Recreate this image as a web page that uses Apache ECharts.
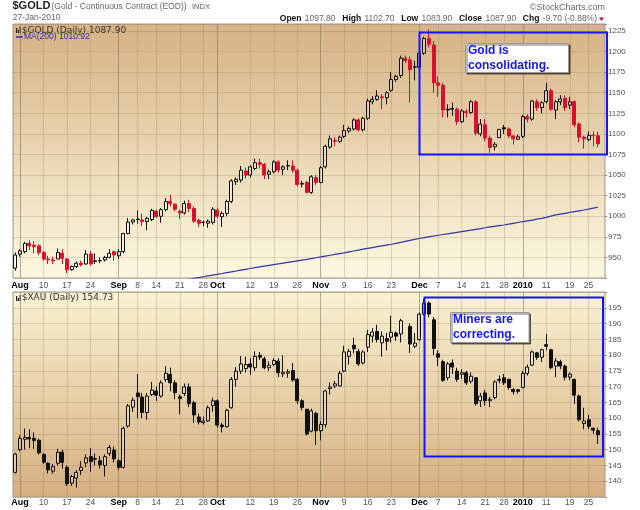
<!DOCTYPE html>
<html><head><meta charset="utf-8">
<script src="https://cdn.jsdelivr.net/npm/echarts/dist/echarts.min.js"></script>
<style>html,body{margin:0;padding:0;background:#fff}#c{width:640px;height:510px}</style>
</head><body><div id="c"></div>
<script>
// ---------- DATA ----------
const dates = [
'2009-07-31',
'2009-08-03','2009-08-04','2009-08-05','2009-08-06','2009-08-07',
'2009-08-10','2009-08-11','2009-08-12','2009-08-13','2009-08-14',
'2009-08-17','2009-08-18','2009-08-19','2009-08-20','2009-08-21',
'2009-08-24','2009-08-25','2009-08-26','2009-08-27','2009-08-28',
'2009-08-31',
'2009-09-01','2009-09-02','2009-09-03','2009-09-04',
'2009-09-08','2009-09-09','2009-09-10','2009-09-11',
'2009-09-14','2009-09-15','2009-09-16','2009-09-17','2009-09-18',
'2009-09-21','2009-09-22','2009-09-23','2009-09-24','2009-09-25',
'2009-09-28','2009-09-29','2009-09-30',
'2009-10-01','2009-10-02',
'2009-10-05','2009-10-06','2009-10-07','2009-10-08','2009-10-09',
'2009-10-12','2009-10-13','2009-10-14','2009-10-15','2009-10-16',
'2009-10-19','2009-10-20','2009-10-21','2009-10-22','2009-10-23',
'2009-10-26','2009-10-27','2009-10-28','2009-10-29','2009-10-30',
'2009-11-02','2009-11-03','2009-11-04','2009-11-05','2009-11-06',
'2009-11-09','2009-11-10','2009-11-11','2009-11-12','2009-11-13',
'2009-11-16','2009-11-17','2009-11-18','2009-11-19','2009-11-20',
'2009-11-23','2009-11-24','2009-11-25','2009-11-26','2009-11-27',
'2009-11-30',
'2009-12-01','2009-12-02','2009-12-03','2009-12-04',
'2009-12-07','2009-12-08','2009-12-09','2009-12-10','2009-12-11',
'2009-12-14','2009-12-15','2009-12-16','2009-12-17','2009-12-18',
'2009-12-21','2009-12-22','2009-12-23','2009-12-24',
'2009-12-28','2009-12-29','2009-12-30','2009-12-31',
'2010-01-04','2010-01-05','2010-01-06','2010-01-07','2010-01-08',
'2010-01-11','2010-01-12','2010-01-13','2010-01-14','2010-01-15',
'2010-01-19','2010-01-20','2010-01-21','2010-01-22',
'2010-01-25','2010-01-26','2010-01-27'
];

// [open, close, low, high]
const gold = [
[937,953,934,956],
[954,958,951,960],[957,967,955,969],[967,964,959,971],[965,963,955,970],[964,956,953,966],
[956,948,946,958],[948,947,942,952],[947,946,942,951],[948,956,948,961],[955,949,942,960],
[948,935,931,949],[935,939,934,940],[939,943,937,945],[943,941,939,946],[942,954,941,959],
[954,942,940,958],[945,946,942,955],[946,946.3,943,950],[947,950,945,952],[950,955,949,960],
[957,953,946,958],
[952,957,948,960],[957,979,955,980],[979,993,978,998],[993,995.5,990,997],
[996,996.5,991,1007],[995.5,993.5,988,1003],[993.5,997.5,983,999],[996,1007,994,1009],
[1006,999.5,998,1008],[1000,1008,992,1010],[1008,1018,1006,1022],[1018,1015.5,1012,1026],[1014.5,1008.5,1006,1016],
[1006,1004,997,1008],[1004,1015.5,1002,1019],[1015.5,1009.5,1005,1020],[1009.5,994,992,1012],[995,991.5,987,997],
[992.5,992.8,988,995],[991.5,994,986,996],[992.5,1008.5,990,1011],
[1007.5,1000,998,1010],[999.5,1003.5,987,1006],
[1003.5,1018,1000,1020],[1018,1043,1016,1045],[1042,1045,1038,1047],[1044,1056,1041,1061],[1055,1050,1046,1059],
[1050,1060,1047,1062],[1058,1065,1056,1070],[1065,1063,1058,1070],[1063,1050,1045,1065],[1051,1054,1045,1057],
[1054,1066,1052,1068],[1066,1056,1053,1068],[1057,1060,1050,1062],[1061,1061.5,1056,1068],[1061,1056,1053,1068],
[1056,1038.5,1036,1058],[1039,1040,1035,1043],[1041,1029,1028,1043],[1029,1048,1027,1050],[1047,1041,1038,1050],
[1041,1059,1040,1061],[1060,1085,1058,1087],[1084,1094,1082,1098],[1092,1091,1085,1096],[1091,1096,1089,1098],
[1097,1104,1095,1111],[1103.5,1106.5,1101,1109],[1106,1117,1104,1119],[1117,1105,1103,1119],[1105,1119,1103,1121],
[1119,1140,1117,1143],[1139,1142,1136,1146],[1142,1146,1140,1153],[1145,1144,1130,1148],[1144,1150,1136,1152],
[1153,1166,1151,1175],[1166,1170,1163,1172],[1171,1192,1168,1195],[1192,1189,1186,1195],[1190,1178,1138,1194],
[1181,1181.5,1165,1189],
[1181,1198,1178,1200],[1198,1216,1196,1218],[1216,1209,1205,1227],[1208,1162,1150,1213],
[1162,1159,1145,1170],[1159,1129,1120,1162],[1130,1129,1120,1136],[1130,1131,1122,1138],[1130,1115,1111,1132],
[1115,1128,1113,1130],[1127,1126,1120,1130],[1126,1139,1124,1141],[1139,1101,1098,1141],[1100,1112,1097,1118],
[1111,1095,1091,1118],[1095,1083.5,1077,1098],[1084.5,1087.5,1080,1090],[1095.5,1105.5,1095,1106],
[1107.5,1106,1100,1111],[1106,1097.5,1095,1108],[1097.5,1094,1087,1099],[1093.5,1096.5,1093,1099],
[1097,1121,1095,1123],[1121,1118,1114,1124],[1118,1140,1116,1141],[1139,1132,1128,1142],[1132,1138,1125,1140],
[1139,1152.5,1137,1162],[1152.5,1130,1128,1155],[1129,1139,1118,1141],[1139,1142.5,1135,1147],[1143,1132,1128,1147],
[1135,1139,1130,1145],[1139,1111,1108,1141],[1112,1096,1090,1114],[1096,1094,1082,1098],
[1093,1098,1091,1103],[1098.5,1097.8,1085,1103],[1097.8,1087.9,1083.9,1102.7]
];

// 200-day moving average, from 2009-09-22 (index 36) onward
const ma200Start = 36;
const ma200 = [
922.6,923.5,924.5,925.5,926.5,927.5,928.5,929.5,930.5,931.5,
932.5,933.5,934.5,935.5,936.5,937.5,938.5,939.5,940.4,941.3,
942.2,943.1,944.0,944.9,945.8,946.7,947.6,948.6,949.6,950.6,
951.6,952.6,953.6,954.6,955.6,956.7,957.8,958.9,960.0,961.0,
962.0,963.0,964.0,965.0,966.0,967.1,968.3,969.5,970.7,971.9,
973.0,974.0,975.0,976.0,976.9,977.8,978.7,979.6,980.5,981.4,
982.3,983.2,984.1,985.0,986.0,987.0,987.8,988.6,989.4,990.4,
991.4,992.4,993.4,994.4,995.4,996.4,997.4,998.6,1000.2,1001.6,
1002.6,1003.6,1004.6,1005.6,1006.6,1007.6,1008.7,1009.8,1010.9
];

// [open, close, low, high]; null = no session
const xau = [
[142.8,148.6,142.5,149],
[150,153.6,149.5,154.5],[153.3,153.9,150,156.7],[153.9,153.4,150.5,156.5],[153.6,152.9,150.3,155.5],[153,149,148.5,153.5],
[148.5,146,145.5,149],[145.7,143.6,142.5,146],[143.2,144.6,142.4,145.5],[145.7,149.2,145,150.3],[149.2,146,144,150],
[144.4,139.2,138.5,145],[139.4,141.5,138.5,142],[141,142.8,138,143.5],[143.4,144.4,142,146.3],[145.8,147.4,144.5,148.5],
[147.8,146.2,143,150.5],[147.2,147,145,148.8],[146.5,145.2,144,148],[145,147.8,141.5,148.5],[148.8,150.7,148,151.5],
[149.9,147.1,146,151],
[146.5,144.4,143.5,147],[144.4,156.8,144,157.3],[157.5,163.9,157,164.5],[163.5,165.7,162,166.5],
[168,166.8,160,174],[166.7,161.8,160,168],[161.8,167,159.5,168],[167.5,168.9,167,171.5],
[168.6,167.3,165.5,170],[167,171.2,166.5,172],[172.2,174.2,171.5,176.5],[173.9,171.2,168.5,176],[171.2,168.1,166,172],
[166.8,166.2,161.2,167.5],[167.8,169.9,167,171],[169.9,164.6,163.5,171],[164.9,161,158.5,165.5],[160.4,158.8,158,161.5],
[158.6,159.1,158,160.5],[159.1,163.3,158.8,164],[164,165.5,162,166.5],
[165.5,157.8,157,166],[157.8,157.3,155.5,158.5],
[157.3,162.5,157,163],[163.3,172.3,163,173],[172.3,174.9,170,176.2],[174.9,177.2,174,179.7],[175.7,177,174.5,179.5],
[177.2,176.2,173.7,179],[176,179.6,175,181.2],[179.9,179.3,178.5,181],[178.8,176,175.5,179.5],[176,176.8,175,178],
[177,178.3,176.5,179],[178.1,174.4,173,179],[174.1,174.6,173,179.9],[174.3,174.7,172.8,175.5],[175.1,172.1,171.5,177.5],
[172.3,165.5,164.5,172.8],[165.5,163.4,162.5,166],[162.8,155,154.5,163],[155.9,162.3,155.5,163],[161.5,156,151.5,162],
[156,158,153,159],[157.9,168.6,157,169],[169.4,169.9,167.5,171.3],[170.2,170.9,169.5,171.8],[170.2,174.2,170,175],
[174.9,181,174.5,183],[179.6,181.2,177,182],[183.1,182,180.5,185.5],[181.2,177.2,176.5,182],[177.5,181,177,181.5],
[182.5,186.5,181,188],[186,187.3,184,188.5],[187.5,184.9,184,189.6],[183.9,186,179.5,187.5],[185.2,184.4,181.5,187],
[185.7,187.2,184,192.5],[187,186,184.5,187.5],[186.7,190.9,184,191.5],null,[189.1,183.5,180.7,190],
[182.8,183.8,182.2,187],
[184.9,193,184.5,193.5],[193,196.5,192.5,197.8],[196.5,193,192,197],[191.2,182.1,180,192],
[180.4,179.3,176.5,181.5],[177.9,172,171.5,178.5],[172.8,177.2,172,177.8],[177.5,176.2,174,178.6],[174.9,172.3,171.5,176],
[173.9,174.4,172.5,175.5],[174.4,171.2,170.5,175],[171.7,173.3,171,174.5],[172.8,164.6,164,173],[165.5,167,163.5,168],
[168,165.5,164,169],[165.5,166,163.5,166.8],[166.5,171.5,166,172],[172.3,172,171,173.5],
[172.8,171.2,170.5,174],[172.3,169.7,169,172.5],[169.1,168.4,167.5,169.5],[169,168.5,167.8,169.2],
[169.7,174.2,169.5,175],[174.2,176.2,173.5,177],[176.8,181,176.5,181.5],[180.7,179.3,178.5,181],[179.3,181.7,177.8,182],
[183.3,182.8,181.5,186.7],[181.7,176,175.5,182],[176.5,178.1,173,179],[177.9,176.5,175.5,178.5],[176.5,173,172,177],
[173,174,172,174.5],[172.3,167.3,164.5,172.5],[167,159.5,159,167.5],[158.3,159.1,156.5,163.3],
[159.5,157.4,156.5,161],[156.8,156.2,155,157],[156,154.73,151.8,157]
];

const tickDates = ['2009-08-03','2009-08-10','2009-08-17','2009-08-24','2009-09-01','2009-09-08','2009-09-14','2009-09-21','2009-09-28',
  '2009-10-01','2009-10-12','2009-10-19','2009-10-26','2009-11-02','2009-11-09','2009-11-16','2009-11-23',
  '2009-12-01','2009-12-07','2009-12-14','2009-12-21','2009-12-28','2010-01-04','2010-01-11','2010-01-19','2010-01-25'];
const tickLabels = ['Aug','10','17','24','Sep','8','14','21','28','Oct','12','19','26','Nov','9','16','23',
  'Dec','7','14','21','28','2010','11','19','25'];
const monthDates = ['2009-08-03','2009-09-01','2009-10-01','2009-11-02','2009-12-01','2010-01-04'];

const goldTicks = {min: 925, max: 1233.5, step: 25, lo: 950, hi: 1225};
const xauTicks = {min: 135, max: 200, step: 5, lo: 140, hi: 195};

// ---------- BUILD ----------
const RED = '#d8102c', BLK = '#111';
const HOLLOW = 'rgba(255,255,255,0.25)';
const FONT = '"Liberation Sans", Arial, sans-serif';
const cats = dates.concat(['']);

const labelMap = {};
tickDates.forEach((d, k) => {
  labelMap[d] = monthDates.indexOf(d) >= 0 ? '{m|' + tickLabels[k] + '}' : '{d|' + tickLabels[k] + '}';
});

function items(rows, colored) {
  return rows.map((r, i) => {
    if (!r) return {value: ['-','-','-','-']};
    const prev = i > 0 && rows[i-1] ? rows[i-1][1] : r[0];
    const col = colored ? (r[1] >= prev ? BLK : RED) : BLK;
    const filled = r[1] < r[0];
    const fill = filled ? col : HOLLOW;
    return {value: r, itemStyle: {color: fill, color0: fill, borderColor: col, borderColor0: col, borderColorDoji: col}};
  });
}

const maData = dates.map((d, i) => (i >= ma200Start ? ma200[i - ma200Start] : '-'));

function vlines() {
  return {
    silent: true, symbol: ['none','none'], label: {show: false}, animation: false,
    data: tickDates.map(d => ({xAxis: d, lineStyle: {
      color: monthDates.indexOf(d) >= 0 ? 'rgba(120,110,100,0.55)' : 'rgba(150,120,80,0.28)', width: 1, type: 'solid'}}))
  };
}

function xAxisCfg(gi) {
  return {
    type: 'category', gridIndex: gi, data: cats, boundaryGap: true,
    axisLine: {show: false}, axisTick: {show: false}, splitLine: {show: false},
    axisLabel: {
      interval: (idx, val) => labelMap[val] !== undefined,
      formatter: val => labelMap[val] || '',
      margin: gi === 0 ? 3 : 1,
      rich: {
        m: {fontFamily: FONT, fontWeight: 'bold', fontSize: 9, color: '#000'},
        d: {fontFamily: FONT, fontSize: 8.5, color: '#555'}
      }
    }
  };
}

function yAxisCfg(gi, t) {
  return {
    type: 'value', gridIndex: gi, position: 'right', scale: true,
    min: t.min, max: t.max, interval: t.step,
    axisLine: {show: false},
    axisTick: {show: true, length: 2, lineStyle: {color: '#888'}},
    axisLabel: {margin: 3, fontFamily: FONT, fontSize: 8, color: '#555',
      formatter: v => (Math.abs(v % t.step) < 1e-6 && v >= t.lo && v <= t.hi) ? String(v) : ''},
    splitLine: {show: true, lineStyle: {color: 'rgba(140,110,70,0.22)', width: 1}}
  };
}

const G = echarts.graphic;
const topBg = new G.LinearGradient(0, 0, 0, 1, [{offset: 0, color: '#d6b284'}, {offset: 1, color: '#fcf9e0'}]);
const botBg = new G.LinearGradient(0, 0, 0, 1, [{offset: 0, color: '#f9f2d2'}, {offset: 1, color: '#d5af80'}]);

function txt(x, y, text, font, fill, align, z) {
  return {type: 'text', x: x, y: y, z: z || 50, silent: true,
    style: {text: text, font: font, fill: fill, align: align || 'left', verticalAlign: 'middle'}};
}
function icon(x, y) {
  return {type: 'group', x: x, y: y, z: 50, silent: true, children: [
    {type: 'rect', shape: {x: 0, y: 1, width: 1.2, height: 5}, style: {fill: '#222'}},
    {type: 'rect', shape: {x: 1.8, y: 3, width: 1.2, height: 3}, style: {fill: '#222'}},
    {type: 'rect', shape: {x: 3.6, y: 0, width: 1.2, height: 6}, style: {fill: '#222'}}
  ]};
}

const BLUE = '#1414ff';
const graphics = [
  txt(12.5, 6.3, '$GOLD', 'bold 11px ' + FONT, '#222'),
  txt(51.5, 7, '(Gold - Continuous Contract (EOD))', '8.5px ' + FONT, '#666'),
  txt(192, 7.3, 'INDX', '7.5px ' + FONT, '#666'),
  txt(605, 7.8, '\u00a9StockCharts.com', '9px ' + FONT, '#666', 'right'),
  txt(12.7, 17.7, '27-Jan-2010', '8.5px ' + FONT, '#666'),
  {type: 'text', x: 597, y: 18.5, z: 50, silent: true, style: {
    text: '{b|Open} {n|1097.80}  {b|High} {n|1102.70}  {b|Low} {n|1083.90}  {b|Close} {n|1087.90}  {b|Chg} {n|-9.70 (-0.88%)}',
    align: 'right', verticalAlign: 'middle',
    rich: {b: {font: 'bold 8.5px ' + FONT, fill: '#111'}, n: {font: '8.5px ' + FONT, fill: '#666'}}}},
  {type: 'polygon', z: 50, silent: true, shape: {points: [[599, 17.5], [604, 17.5], [601.5, 21]]}, style: {fill: '#c8102c'}},

  icon(16, 27),
  txt(21.7, 30.2, '$GOLD (Daily) 1087.90', '9px "DejaVu Sans", sans-serif', '#333'),
  {type: 'line', z: 50, silent: true, shape: {x1: 16, y1: 37, x2: 22.7, y2: 37}, style: {stroke: '#2a2ab0', lineWidth: 1.5}},
  txt(24, 36.6, 'MA(200) 1010.92', '8.5px ' + FONT, '#2a2ab0'),
  icon(16, 295),
  txt(21.7, 298, '$XAU (Daily) 154.73', '9px "DejaVu Sans", sans-serif', '#333'),

  // annotations
  {type: 'rect', z: 60, silent: true, shape: {x: 419.5, y: 32.5, width: 187.5, height: 122}, style: {fill: 'none', stroke: BLUE, lineWidth: 2}},
  {type: 'rect', z: 61, silent: true, shape: {x: 465.5, y: 43.5, width: 103, height: 29},
    style: {fill: '#fff', stroke: '#999', lineWidth: 1, shadowColor: 'rgba(0,0,0,0.55)', shadowOffsetX: 1.5, shadowOffsetY: 1.5, shadowBlur: 0}},
  txt(468, 50.8, 'Gold is', 'bold 12px ' + FONT, BLUE, 'left', 70),
  txt(468, 65.2, 'consolidating.', 'bold 12px ' + FONT, BLUE, 'left', 70),

  {type: 'rect', z: 60, silent: true, shape: {x: 424.5, y: 297.5, width: 178.5, height: 159}, style: {fill: 'none', stroke: BLUE, lineWidth: 2}},
  {type: 'rect', z: 61, silent: true, shape: {x: 450.5, y: 312.5, width: 78.5, height: 30},
    style: {fill: '#fff', stroke: '#999', lineWidth: 1, shadowColor: 'rgba(0,0,0,0.55)', shadowOffsetX: 1.5, shadowOffsetY: 1.5, shadowBlur: 0}},
  txt(453, 319.8, 'Miners are', 'bold 12px ' + FONT, BLUE, 'left', 70),
  txt(453, 334.8, 'correcting.', 'bold 12px ' + FONT, BLUE, 'left', 70)
];

const option = {
  animation: false,
  backgroundColor: '#fff',
  grid: [
    {left: 13, top: 24, width: 592, height: 254, show: true, backgroundColor: topBg, borderColor: '#a0968a', borderWidth: 1, containLabel: false, outerBoundsMode: 'none'},
    {left: 13, top: 292, width: 592, height: 205, show: true, backgroundColor: botBg, borderColor: '#a0968a', borderWidth: 1, containLabel: false, outerBoundsMode: 'none'}
  ],
  xAxis: [xAxisCfg(0), xAxisCfg(1)],
  yAxis: [yAxisCfg(0, goldTicks), yAxisCfg(1, xauTicks)],
  series: [
    {type: 'line', name: 'grid0', xAxisIndex: 0, yAxisIndex: 0, z: 1, data: ['-'], symbol: 'none', silent: true, markLine: vlines()},
    {type: 'line', name: 'grid1', xAxisIndex: 1, yAxisIndex: 1, z: 1, data: ['-'], symbol: 'none', silent: true, markLine: vlines()},
    {type: 'line', name: 'MA(200)', xAxisIndex: 0, yAxisIndex: 0, z: 3, data: maData, symbol: 'none', silent: true,
      lineStyle: {color: '#3333a8', width: 1.2}, connectNulls: false},
    {type: 'candlestick', name: '$GOLD', xAxisIndex: 0, yAxisIndex: 0, z: 5, barWidth: 3.5, silent: true,
      itemStyle: {borderWidth: 1}, data: items(gold, true)},
    {type: 'candlestick', name: '$XAU', xAxisIndex: 1, yAxisIndex: 1, z: 5, barWidth: 3.5, silent: true,
      itemStyle: {borderWidth: 1}, data: items(xau, false)}
  ],
  graphic: {elements: graphics}
};

const chart = echarts.init(document.getElementById('c'), null, {renderer: 'canvas'});
chart.setOption(option);
</script></body></html>
